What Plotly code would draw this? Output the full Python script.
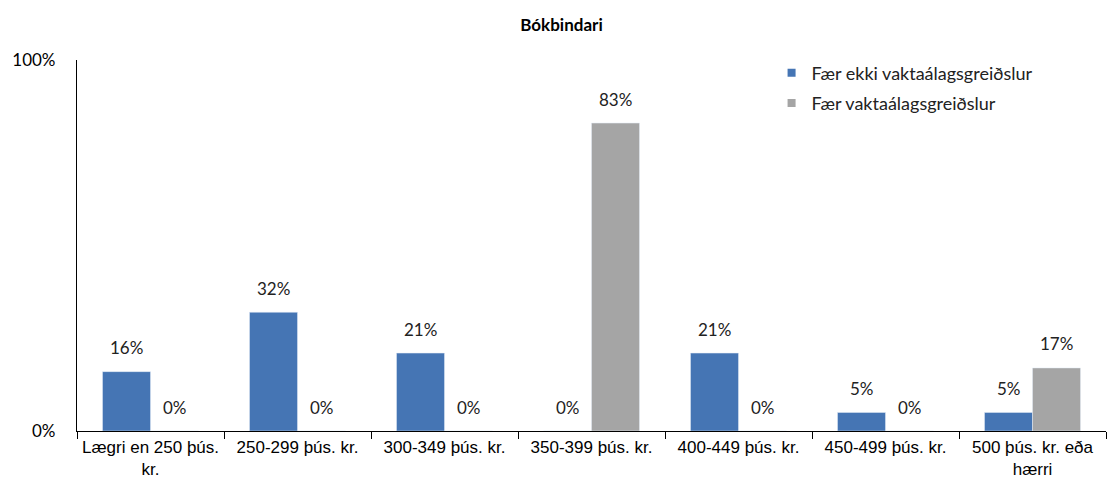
import plotly.graph_objects as go

categories = ["Lægri en 250 þús.<br>kr.", "250-299 þús. kr.", "300-349 þús. kr.", "350-399 þús. kr.",
              "400-449 þús. kr.", "450-499 þús. kr.", "500 þús. kr. eða<br>hærri"]
series_names = ["Fær ekki vaktaálagsgreiðslur", "Fær vaktaálagsgreiðslur"]
no_shift = [0.16, 0.32, 0.21, 0.0, 0.21, 0.05, 0.05]
shift = [0.0, 0.0, 0.0, 0.83, 0.0, 0.0, 0.17]
colors = ["#4575B4", "#A5A5A5"]

label_font = dict(family="Lato, Liberation Sans, sans-serif", size=17, color="#222222")

fig = go.Figure()
for i, (name, vals, col) in enumerate(zip(series_names, [no_shift, shift], colors)):
    fig.add_trace(go.Bar(
        x=categories, y=vals, name=name, marker_color=col, legendgroup=str(i),
        showlegend=False,
    ))
    # legend entry with a small square key, like the original
    fig.add_trace(go.Scatter(
        x=[None], y=[None], mode="markers", name=name, legendgroup=str(i),
        marker=dict(symbol="square", size=8, color=col), showlegend=True,
    ))
    xshift = -24 if i == 0 else 24
    for c, v in zip(categories, vals):
        fig.add_annotation(x=c, y=v, text=f"{round(v*100)}%", showarrow=False,
                           xshift=xshift, yshift=24, font=label_font)

fig.update_layout(
    width=1107, height=485,
    margin=dict(l=69, r=9, t=52, b=62, autoexpand=False),
    plot_bgcolor="white", paper_bgcolor="white",
    barmode="group", bargap=0.347, bargroupgap=0,
    title=dict(text="<b>Bókbindari</b>", x=0.5, xanchor="center", y=0.965, yanchor="middle",
               font=dict(family="Lato, Liberation Sans, sans-serif", size=17, color="black")),
    legend=dict(x=0.675, y=1.015, xanchor="left", yanchor="top", bgcolor="rgba(0,0,0,0)",
                font=dict(family="Lato, Liberation Sans, sans-serif", size=18, color="#222222"),
                itemwidth=30, tracegroupgap=4),
    showlegend=True,
)
fig.update_xaxes(showline=True, linecolor="black", linewidth=1.2, ticks="outside",
                 tickson="boundaries", ticklen=7, tickcolor="black", tickwidth=1.2,
                 automargin=False,
                 tickfont=dict(family="Liberation Sans Narrow, Arial Narrow, Liberation Sans, sans-serif",
                               size=17, color="black"))
fig.update_yaxes(range=[0, 1], tickvals=[0, 1], ticktext=["0%", "100%"], showgrid=False,
                 showline=True, linecolor="black", linewidth=1.2, zeroline=False, ticks="",
                 automargin=False, ticklabelstandoff=17,
                 tickfont=dict(family="Lato, Liberation Sans, sans-serif", size=17, color="black"))

fig.write_html("out.html")
